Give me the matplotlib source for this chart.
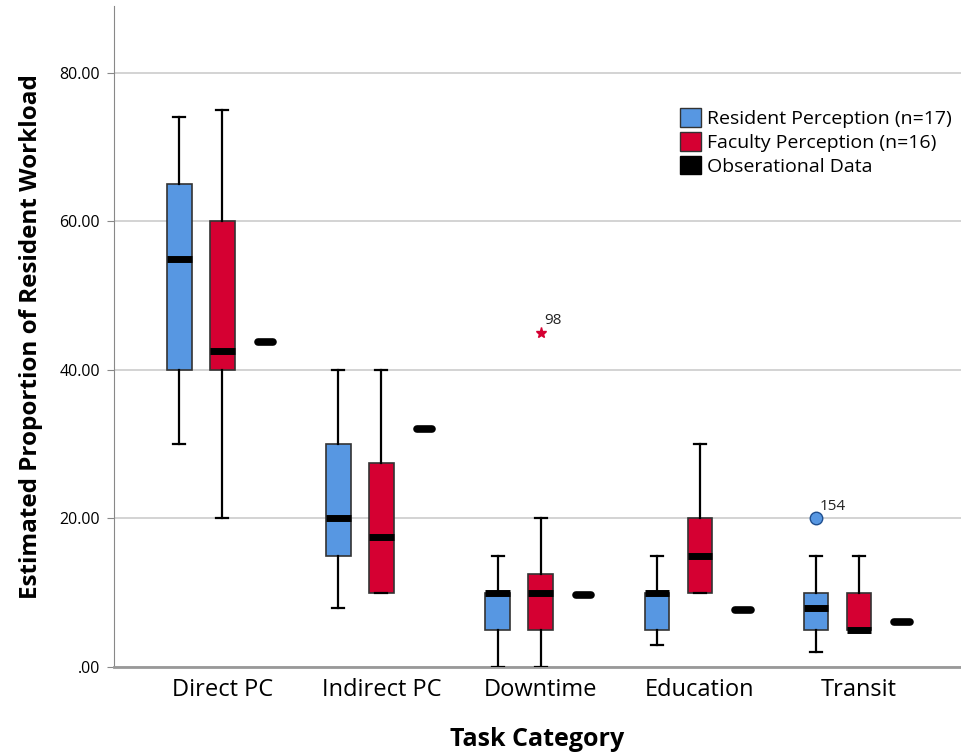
import matplotlib.pyplot as plt
from matplotlib.patches import Patch
from matplotlib.ticker import FuncFormatter

# data
categories = ['Direct PC', 'Indirect PC', 'Downtime', 'Education', 'Transit']

# five-number summaries: whisker low, Q1, median, Q3, whisker high
res_low = [30, 8, 0, 3, 2]
res_q1 = [40, 15, 5, 5, 5]
res_med = [55, 20, 10, 10, 8]
res_q3 = [65, 30, 10, 10, 10]
res_high = [74, 40, 15, 15, 15]

fac_low = [20, 10, 0, 10, 5]
fac_q1 = [40, 10, 5, 10, 5]
fac_med = [42.5, 17.5, 10, 15, 5]
fac_q3 = [60, 27.5, 12.5, 20, 10]
fac_high = [75, 40, 20, 30, 15]

obs_values = [43.8, 32.0, 9.7, 7.7, 6.0]

# outliers (category index, value, case label)
res_outliers = [(4, 20, '154')]
fac_outliers = [(2, 45, '98')]

blue = '#5797E2'
red = '#D50032'

plt.rcParams['font.family'] = ['Open Sans', 'DejaVu Sans']

fig = plt.figure(figsize=(9.61, 7.52), dpi=100)
ax = fig.add_axes([0.1186, 0.113, 0.8814, 0.879])


def make_stats(low, q1, med, q3, high):
    stats = []
    for i in range(len(low)):
        stats.append({'whislo': low[i], 'q1': q1[i], 'med': med[i],
                      'q3': q3[i], 'whishi': high[i], 'fliers': []})
    return stats


offset = 0.27
bw = 0.155
res_pos = [i - offset for i in range(len(categories))]
fac_pos = [i for i in range(len(categories))]
obs_pos = [i + offset for i in range(len(categories))]

for stats, pos, color in [(make_stats(res_low, res_q1, res_med, res_q3, res_high), res_pos, blue),
                          (make_stats(fac_low, fac_q1, fac_med, fac_q3, fac_high), fac_pos, red)]:
    ax.bxp(stats, positions=pos, widths=bw, patch_artist=True, showfliers=False,
           capwidths=0.075,
           boxprops=dict(facecolor=color, edgecolor='#333333', linewidth=1.2),
           medianprops=dict(color='black', linewidth=5, solid_capstyle='butt'),
           whiskerprops=dict(color='black', linewidth=1.6),
           capprops=dict(color='black', linewidth=1.6),
           manage_ticks=False, zorder=3)

# observational data
obs = ax.hlines(obs_values, [p - 0.048 for p in obs_pos], [p + 0.048 for p in obs_pos],
                colors='black', linewidth=5.5, zorder=3)
obs.set_capstyle('round')

# outliers
for idx, val, lab in res_outliers:
    ax.plot(res_pos[idx], val, 'o', color=blue, markeredgecolor='#1f4f8f',
            markersize=9, zorder=4)
    ax.text(res_pos[idx] + 0.02, val + 1.2, lab, fontsize=11, color='#222222')
for idx, val, lab in fac_outliers:
    ax.plot(fac_pos[idx], val, '*', color=red, markersize=8, zorder=4)
    ax.text(fac_pos[idx] + 0.02, val + 1.2, lab, fontsize=11, color='#222222')

ax.set_xlim(-0.68, 4.64)
ax.set_ylim(0, 89)
ax.set_yticks([0, 20, 40, 60, 80])
ax.yaxis.set_major_formatter(FuncFormatter(lambda v, p: '.00' if v == 0 else f'{v:.2f}'))
ax.set_xticks(range(len(categories)))
ax.set_xticklabels(categories, fontsize=17)
ax.tick_params(axis='x', length=0, pad=8)
ax.tick_params(axis='y', labelsize=11.5, length=5, color='#888888', pad=5)
ax.grid(axis='y', color='#cccccc', linewidth=1.2, zorder=0)
ax.set_axisbelow(True)

for s in ['top', 'right']:
    ax.spines[s].set_visible(False)
ax.spines['left'].set_color('#888888')
ax.spines['bottom'].set_color('#999999')
ax.spines['bottom'].set_linewidth(2)

ax.set_xlabel('Task Category', fontsize=18, fontweight='bold', labelpad=18)
ax.set_ylabel('Estimated Proportion of Resident Workload', fontsize=17.5,
              fontweight='bold', labelpad=12)

handles = [Patch(facecolor=blue, edgecolor='#333333', label='Resident Perception (n=17)'),
           Patch(facecolor=red, edgecolor='#333333', label='Faculty Perception (n=16)'),
           Patch(facecolor='black', edgecolor='black', label='Obserational Data')]
ax.legend(handles=handles, loc='upper right', bbox_to_anchor=(1.01, 0.872), frameon=False,
          fontsize=14, handlelength=1.1, handleheight=1.1, handletextpad=0.3,
          labelspacing=0.2)

fig.savefig('out.png', dpi=100)
